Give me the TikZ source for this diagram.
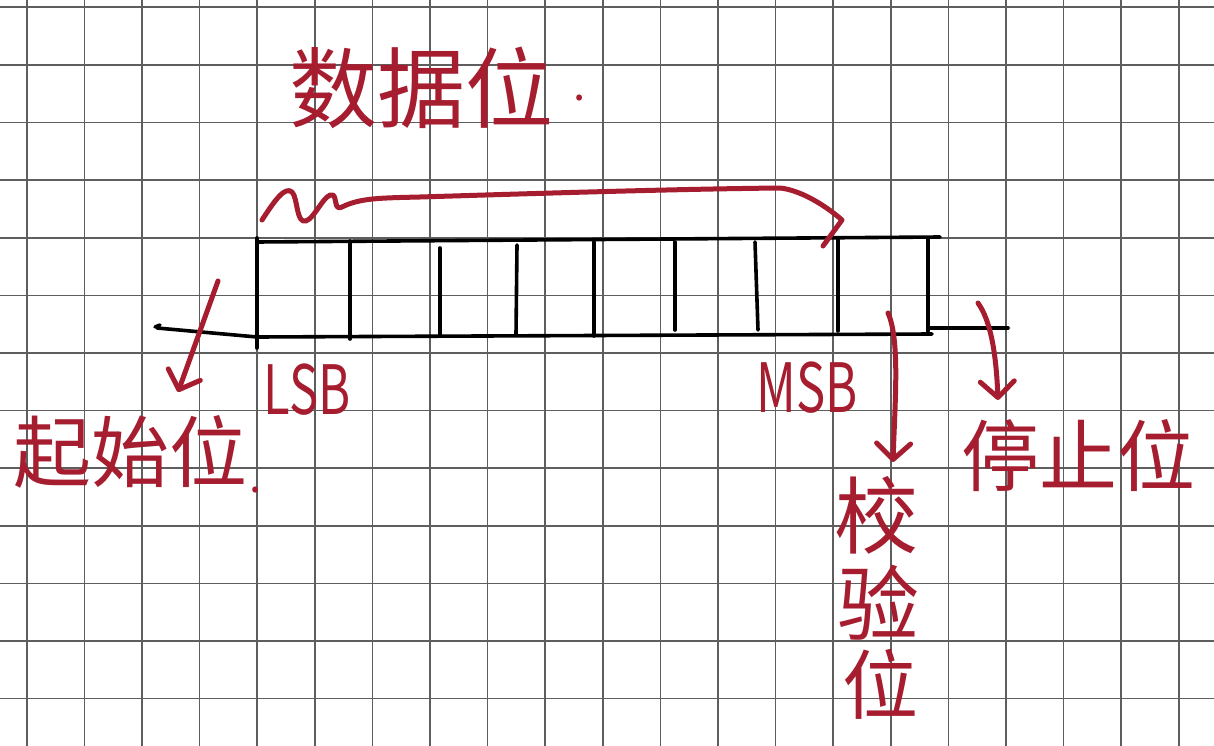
\documentclass[tikz,border=0pt]{standalone}
\usepackage{fontspec}
\newfontfamily\cjk{Noto Sans CJK SC}
\usetikzlibrary{arrows.meta}
\definecolor{pen}{HTML}{A51D2F}
\definecolor{gridc}{HTML}{5E5E5E}
\tikzset{
  gridline/.style={draw=gridc, line width=1.6pt},
  frameline/.style={draw=black, line width=3.6pt, line cap=round},
  redpen/.style={draw=pen, line width=5pt, line cap=round, line join=round},
  redarrow/.style={redpen, -{Straight Barb[length=16pt, width=34pt, line width=5pt, round]}},
  zh/.style={text=pen, inner sep=0pt, font=\cjk\fontsize{82}{90}\selectfont},
  lat/.style={text=pen, inner sep=0pt, font=\cjk\fontsize{68}{70}\selectfont},
  dotmark/.style={text=pen, inner sep=0pt, font=\cjk\fontsize{44}{44}\selectfont},
}
\begin{document}
\begin{tikzpicture}[x=1pt, y=-1pt]
\useasboundingbox (0,0) rectangle (1214,746);
\fill[white] (0,0) rectangle (1214,746);
% grid
\foreach \i in {0,...,20} { \draw[gridline] ({26.7+57.6*\i},0) -- ({26.7+57.6*\i},746); }
\foreach \j in {0,...,12} { \draw[gridline] (0,{7.3+57.6*\j}) -- (1214,{7.3+57.6*\j}); }

% frame coordinates
\coordinate (tl) at (257,242);
\coordinate (tr) at (940,237);
\coordinate (bl) at (257,337);
\coordinate (br) at (932,334);
\coordinate (idleL) at (157,328);
\coordinate (idleR) at (1008,328);
\coordinate (stopT) at (928,239);
\coordinate (stopB) at (928,331);

\draw[frameline] (tl) -- (tr);
\draw[frameline] (bl) -- (br);
\draw[frameline] (257,238) -- (257,348);
\draw[frameline] (idleL) -- (bl);
\draw[frameline] (155,327) -- (160,325);
\draw[frameline] (stopT) -- (stopB);
\draw[frameline] (928,328) -- (idleR);
% dividers
\draw[frameline] (350,241) -- (350,339);
\draw[frameline] (440,248) -- (440,336);
\draw[frameline] (517,245) -- (516,334);
\draw[frameline] (594,242) -- (594,336);
\draw[frameline] (675,242) -- (675,330);
\draw[frameline] (755,242) -- (758,330);
\draw[frameline] (838,238) -- (838,331);

% labels
\node[zh, font=\cjk\fontsize{88}{90}\selectfont] (data) at (421,88) {数据位};
\node[dotmark] (datadot) at (580,98) {.};
\node[zh, font=\cjk\fontsize{78}{80}\selectfont] (start) at (130,452) {起始位};
\node[dotmark] (startdot) at (256,490) {.};
\node[zh, font=\cjk\fontsize{78}{80}\selectfont] (stop) at (1078,456) {停止位};
\node[zh, font=\cjk\fontsize{84}{80}\selectfont] (par1) at (876,515) {校};
\node[zh, font=\cjk\fontsize{82}{80}\selectfont] (par2) at (878,603) {验};
\node[zh, font=\cjk\fontsize{76}{80}\selectfont] (par3) at (880,684) {位};
\node[lat] (lsb) at (307,390) {\scalebox{0.72}[1]{LSB}};
\node[lat] (msb) at (807,388) {\scalebox{0.72}[1]{MSB}};

% data bits brace
\coordinate (braceA) at (262,220);
\coordinate (braceB) at (823,246);
\draw[redpen] (braceA) .. controls (275,200) and (285,186) .. (292,192)
  .. controls (298,198) and (296,224) .. (306,221)
  .. controls (315,218) and (325,192) .. (333,195)
  .. controls (337,198) and (334,211) .. (342,207)
  .. controls (360,198) and (380,198) .. (420,197)
  .. controls (550,193) and (680,189) .. (780,188)
  .. controls (800,190) and (825,205) .. (842,220)
  -- (braceB);

% arrows
\coordinate (startA) at (218,281);
\coordinate (startB) at (178,392);
\draw[redarrow] (startA) -- (startB);
\coordinate (parA) at (888,313);
\coordinate (parB) at (893,462);
\draw[redarrow] (parA) .. controls (900,340) and (895,400) .. (parB);
\coordinate (stopA) at (978,303);
\coordinate (stopC) at (998,400);
\draw[redarrow] (stopA) .. controls (990,320) and (996,350) .. (stopC);
\end{tikzpicture}
\end{document}
